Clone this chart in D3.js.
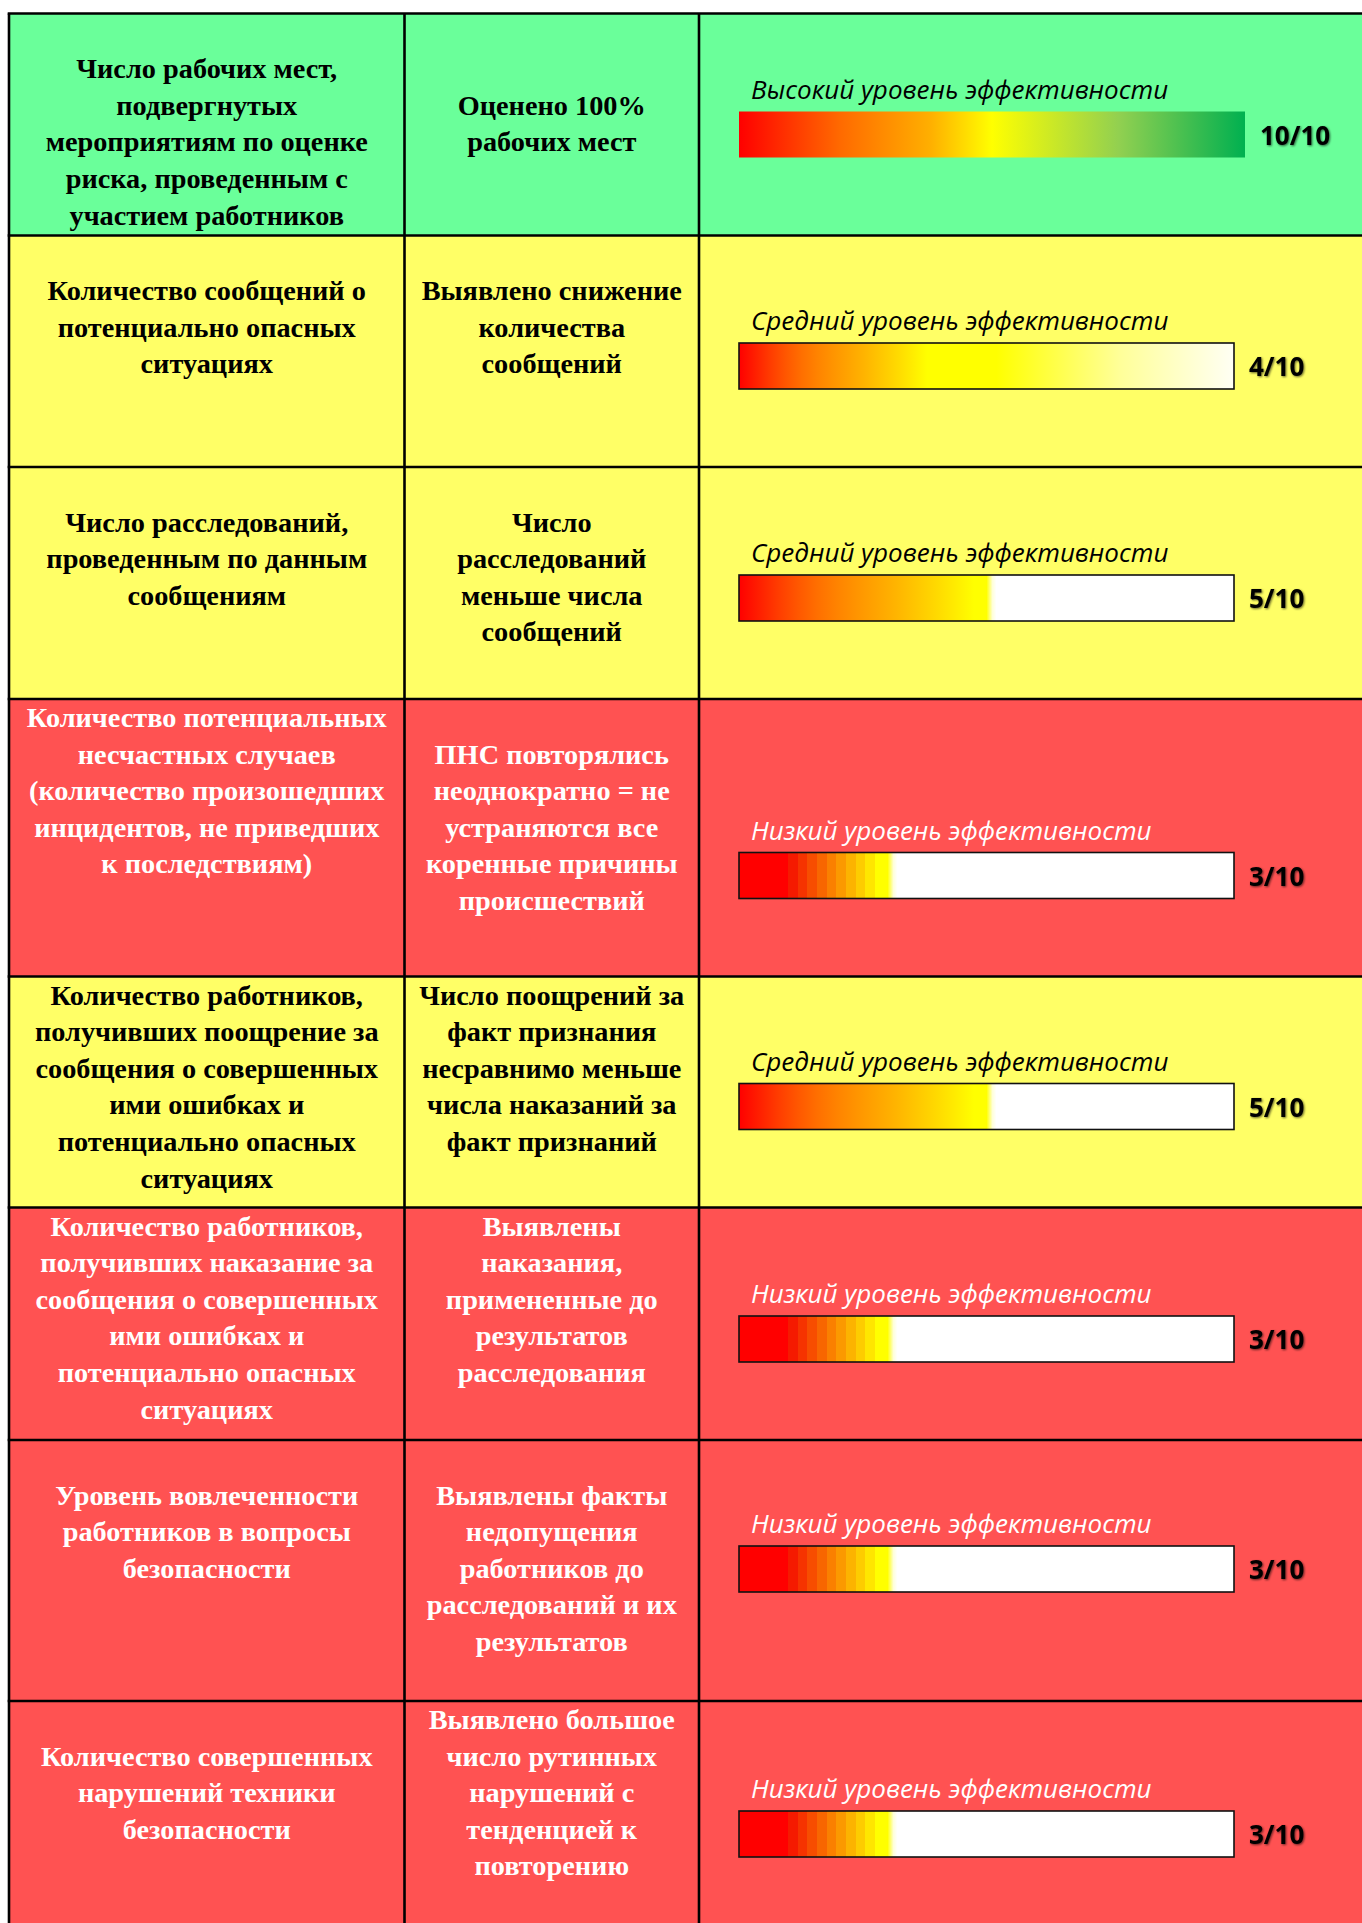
<!DOCTYPE html>
<html lang="ru">
<head>
<meta charset="utf-8">
<title>Оценка эффективности</title>
<script src="https://cdn.jsdelivr.net/npm/d3@7"></script>
<style>
  html, body { margin: 0; padding: 0; background: #ffffff; }
  svg { display: block; }
</style>
</head>
<body>
<svg id="chart" width="1362" height="1923"></svg>
<script>
// Indicator (first column) of each row, one entry per paragraph; "" is an empty paragraph
const indicators = [
  ["", "Число рабочих мест,", "подвергнутых", "мероприятиям по оценке", "риска, проведенным с", "участием работников"],
  ["", "Количество сообщений о", "потенциально опасных", "ситуациях"],
  ["", "Число расследований,", "проведенным по данным", "сообщениям"],
  ["Количество потенциальных", "несчастных случаев", "(количество произошедших", "инцидентов, не приведших", "к последствиям)"],
  ["Количество работников,", "получивших поощрение за", "сообщения о совершенных", "ими ошибках и", "потенциально опасных", "ситуациях"],
  ["Количество работников,", "получивших наказание за", "сообщения о совершенных", "ими ошибках и", "потенциально опасных", "ситуациях"],
  ["", "Уровень вовлеченности", "работников в вопросы", "безопасности"],
  ["", "Количество совершенных", "нарушений техники", "безопасности"]
];

// Finding (second column) of each row
const findings = [
  ["", "", "Оценено 100%", "рабочих мест"],
  ["", "Выявлено снижение", "количества", "сообщений"],
  ["", "Число", "расследований", "меньше числа", "сообщений"],
  ["", "ПНС повторялись", "неоднократно = не", "устраняются все", "коренные причины", "происшествий"],
  ["Число поощрений за", "факт признания", "несравнимо меньше", "числа наказаний за", "факт признаний"],
  ["Выявлены", "наказания,", "примененные до", "результатов", "расследования"],
  ["", "Выявлены факты", "недопущения", "работников до", "расследований и их", "результатов"],
  ["Выявлено большое", "число рутинных", "нарушений с", "тенденцией к", "повторению"]
];

// Efficiency level and score of each row
const levels = [
  "Высокий уровень эффективности",
  "Средний уровень эффективности",
  "Средний уровень эффективности",
  "Низкий уровень эффективности",
  "Средний уровень эффективности",
  "Низкий уровень эффективности",
  "Низкий уровень эффективности",
  "Низкий уровень эффективности"
];
const scores = [10, 4, 5, 3, 5, 3, 3, 3];
const maxScore = 10;

// ---------------------------------------------------------------- layout
const TABLE_LEFT = 9;
const TABLE_TOP = 13.5;
const TABLE_RIGHT = 1380;
const COL_EDGES = [TABLE_LEFT, 404.5, 699];
const ROW_HEIGHTS = [222, 231.5, 232, 277.5, 231, 232.5, 261, 234];
const LINE_STEP = 36.6;
const FIRST_BASELINE = 28;
const BAR_X = 739;
const BAR_W = 495;        // framed bar
const BAR_W_OPEN = 506;   // frameless (high level) bar
const BAR_H = 46;
const BAR_BOTTOM_GAP = 78;                     // space under a bar down to the row border
const BLOCK_LIFT = [0, 0, 0, 0, 0, 0, 31, 0];  // extra empty space under the bar block

const SERIF = "'Liberation Serif', 'Times New Roman', Times, serif";
const SANS = "'Open Sans', 'Noto Sans', sans-serif";

const rowTops = [TABLE_TOP, ...Array.from(d3.cumsum(ROW_HEIGHTS), s => TABLE_TOP + s)];

const levelKind = name => name.startsWith("Высокий") ? "high" : name.startsWith("Средний") ? "mid" : "low";
const rowFill = d3.scaleOrdinal().domain(["high", "mid", "low"]).range(["#6AFF9A", "#FFFF66", "#FF5252"]);
const inkColor = d3.scaleOrdinal().domain(["high", "mid", "low"]).range(["#000000", "#000000", "#FFFFFF"]);
// how the bar fades out after its filled part
const BAR_TAIL = ["none", "long", "short", "short", "short", "short", "short", "short"];

const svg = d3.select("#chart");
const defs = svg.append("defs");

// soft drop shadow under the score text
const shadow = defs.append("filter").attr("id", "scoreShadow")
  .attr("x", "-20%").attr("y", "-30%").attr("width", "150%").attr("height", "170%");
shadow.append("feGaussianBlur").attr("in", "SourceAlpha").attr("stdDeviation", 1.1).attr("result", "blur");
shadow.append("feOffset").attr("in", "blur").attr("dx", 1).attr("dy", 1).attr("result", "off");
shadow.append("feFlood").attr("flood-color", "#000").attr("flood-opacity", 0.6).attr("result", "col");
shadow.append("feComposite").attr("in", "col").attr("in2", "off").attr("operator", "in").attr("result", "sh");
const merge = shadow.append("feMerge");
merge.append("feMergeNode").attr("in", "sh");
merge.append("feMergeNode").attr("in", "SourceGraphic");

const rows = levels.map((lvl, i) => ({
  i,
  kind: levelKind(lvl),
  level: lvl,
  score: scores[i],
  indicator: indicators[i],
  finding: findings[i],
  top: rowTops[i],
  bottom: rowTops[i + 1]
}));

// ---------------------------------------------------------------- cell backgrounds
svg.append("g").selectAll("rect").data(rows).join("rect")
  .attr("x", TABLE_LEFT).attr("y", d => d.top)
  .attr("width", TABLE_RIGHT - TABLE_LEFT).attr("height", d => d.bottom - d.top)
  .attr("fill", d => rowFill(d.kind));

// ---------------------------------------------------------------- cell texts
function cellText(g, lines, cx, top, color) {
  const t = g.append("text")
    .attr("text-anchor", "middle")
    .attr("font-family", SERIF)
    .attr("font-weight", "bold")
    .attr("font-size", 28.3)
    .attr("fill", color);
  lines.forEach((ln, k) => {
    if (ln) t.append("tspan").attr("x", cx).attr("y", top + FIRST_BASELINE + k * LINE_STEP).text(ln);
  });
}
const textLayer = svg.append("g");
rows.forEach(d => {
  cellText(textLayer, d.indicator, (COL_EDGES[0] + COL_EDGES[1]) / 2, d.top, inkColor(d.kind));
  cellText(textLayer, d.finding, (COL_EDGES[1] + COL_EDGES[2]) / 2, d.top, inkColor(d.kind));
});

// ---------------------------------------------------------------- score bars
const red = "#FF0000", yellow = "#FFFF00";
const ramp = d3.interpolateRgbBasis(["#FF0000", "#FF7A00", "#FFB000", "#FFFF00"]);

function barStops(d, frac) {
  // frac: share of the bar covered by the score
  if (d.kind === "high") {
    return [[0, red], [0.2, "#FF6A00"], [0.38, "#FFB000"], [0.5, yellow], [0.75, "#92D050"], [1, "#00B050"]]
      .map(([o, c]) => [o * frac, c]);
  }
  const stops = [];
  if (d.kind === "low") {
    // stepped ramp: solid red, then discrete bands up to yellow
    stops.push([0, red], [0.33 * frac, red]);
    const n = 10;
    for (let k = 0; k < n; k++) {
      const a = (0.33 + (0.98 - 0.33) * k / n) * frac;
      const b = (0.33 + (0.98 - 0.33) * (k + 1) / n) * frac;
      const c = d3.interpolateRgb("#F40000", yellow)((k + 1) / n);
      stops.push([a, c], [b, c]);
    }
    stops.push([frac, yellow]);
  } else {
    const m = 12;
    for (let k = 0; k <= m; k++) stops.push([0.95 * frac * k / m, ramp(k / m)]);
    stops.push([frac, yellow]);
  }
  if (BAR_TAIL[d.i] === "long") {
    stops.push([0.52, yellow], [0.77, "#FFFF99"], [1, "#FFFFF4"]);
  } else {
    stops.push([Math.min(1, frac + 0.012), "#FFFFD8"], [Math.min(1, frac + 0.02), "#FFFFFF"], [1, "#FFFFFF"]);
  }
  return stops;
}

const barLayer = svg.append("g");
rows.forEach(d => {
  const framed = d.kind !== "high";
  const width = framed ? BAR_W : BAR_W_OPEN;
  const x = d3.scaleLinear().domain([0, maxScore]).range([BAR_X, BAR_X + width]);
  const barTop = d.bottom - BAR_BOTTOM_GAP - BLOCK_LIFT[d.i] - BAR_H;
  const frac = (x(d.score) - BAR_X) / width;

  const grad = defs.append("linearGradient").attr("id", "bar" + d.i)
    .attr("gradientUnits", "userSpaceOnUse")
    .attr("x1", x(0)).attr("x2", x(maxScore)).attr("y1", 0).attr("y2", 0);
  grad.selectAll("stop").data(barStops(d, frac)).join("stop")
    .attr("offset", s => s[0]).attr("stop-color", s => s[1]);

  const g = barLayer.append("g");
  g.append("text")
    .attr("x", BAR_X + 12).attr("y", barTop - 13)
    .attr("font-family", SANS).attr("font-style", "italic").attr("font-size", 26)
    .attr("fill", inkColor(d.kind))
    .text(d.level);
  g.append("rect")
    .attr("x", x(0)).attr("y", barTop)
    .attr("width", x(maxScore) - x(0)).attr("height", BAR_H)
    .attr("fill", `url(#bar${d.i})`)
    .attr("stroke", framed ? "#111" : "none").attr("stroke-width", 1.6);
  g.append("text")
    .attr("x", x(maxScore) + 15).attr("y", barTop + BAR_H / 2 + 10)
    .attr("font-family", SANS).attr("font-weight", 700).attr("font-size", 26)
    .attr("fill", "#000").attr("filter", "url(#scoreShadow)")
    .text(`${d.score}/${maxScore}`);
});

// ---------------------------------------------------------------- grid lines
const grid = svg.append("g").attr("stroke", "#000").attr("stroke-width", 2.6);
grid.selectAll("line.h").data(rowTops).join("line")
  .attr("class", "h")
  .attr("x1", TABLE_LEFT - 1.3).attr("x2", TABLE_RIGHT)
  .attr("y1", y => y).attr("y2", y => y);
grid.selectAll("line.v").data(COL_EDGES).join("line")
  .attr("class", "v")
  .attr("x1", x => x).attr("x2", x => x)
  .attr("y1", TABLE_TOP).attr("y2", rowTops[rowTops.length - 1]);
</script>
</body>
</html>
